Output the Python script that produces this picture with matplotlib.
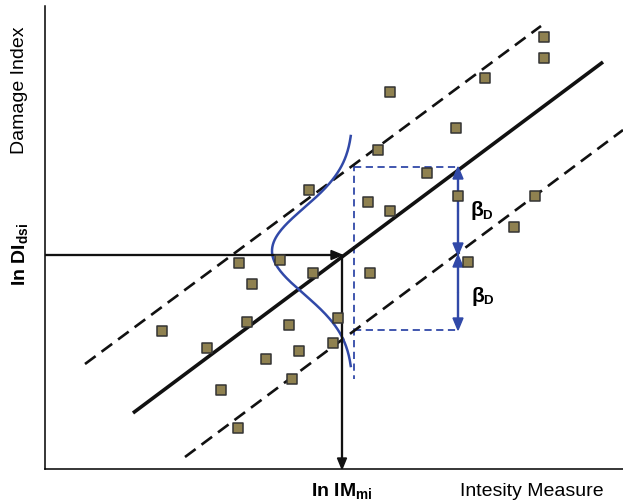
import numpy as np
import matplotlib
matplotlib.use('Agg')
import matplotlib.pyplot as plt

# scatter points (x, y in plot units, y grows upward)
pts_x = [162, 207, 221, 238, 239, 247, 252, 266, 280, 289, 292, 299, 309, 313, 333,
         338, 368, 370, 378, 390, 390, 427, 456, 458, 468, 485, 514, 535, 544, 544]
pts_y = [170, 153, 111, 73, 238, 179, 217, 142, 241, 176, 122, 150, 311, 228, 158,
         183, 299, 228, 351, 409, 290, 328, 373, 305, 239, 423, 274, 305, 464, 443]

# regression line and +/- beta bands (end points)
fit_x = [133, 603]
fit_y = [88, 439]
upper_x = [85, 541]
upper_y = [137, 475]
lower_x = [185, 623]
lower_y = [44, 371]

# selected intensity / damage index
im_mi = 342
di_dsi = 246

# beta levels at the right of the box
beta_x = 458
beta_top = 334
beta_bot = 171
box_left = 354

# schematic normal pdf drawn sideways
pdf_base = 353
pdf_mean = 250
pdf_sigma = 43
pdf_height = 81

blue = '#3149a8'
olive = '#8f8150'

plt.rcParams.update({
    'font.family': 'Liberation Sans',
    'mathtext.fontset': 'custom',
    'mathtext.rm': 'Liberation Sans',
    'mathtext.it': 'Liberation Sans:italic',
    'mathtext.bf': 'Liberation Sans:bold',
})

fig = plt.figure(figsize=(6.23, 5.02), dpi=100)
ax = fig.add_axes([45/623, 32/502, 578/623, 463/502])
ax.set_xlim(45, 623)
ax.set_ylim(32, 495)
ax.spines['top'].set_visible(False)
ax.spines['right'].set_visible(False)
ax.spines['left'].set_linewidth(1.1)
ax.spines['bottom'].set_linewidth(1.1)
ax.set_xticks([])
ax.set_yticks([])

# lines
ax.plot(fit_x, fit_y, color='#111111', lw=2.6, solid_capstyle='butt', zorder=3)
ax.plot(upper_x, upper_y, color='#111111', lw=1.9, ls=(0, (5, 2.8)), zorder=3)
ax.plot(lower_x, lower_y, color='#111111', lw=1.9, ls=(0, (5, 2.8)), zorder=3)

# blue dashed box
ax.plot([box_left, beta_x], [beta_top, beta_top], color=blue, lw=1.3, ls=(0, (4, 2.5)))
ax.plot([box_left, beta_x], [beta_bot, beta_bot], color=blue, lw=1.3, ls=(0, (4, 2.5)))
ax.plot([box_left, box_left], [beta_top + 3, 122], color=blue, lw=1.3, ls=(0, (4, 2.5)))

# normal pdf
yy = np.linspace(pdf_mean - 115, pdf_mean + 115, 200)
xx = pdf_base - pdf_height * np.exp(-(yy - pdf_mean) ** 2 / (2 * pdf_sigma ** 2))
ax.plot(xx, yy, color=blue, lw=1.8, zorder=4)

# black arrows
ax.arrow(45, di_dsi, im_mi - 45, 0, color='#111111', width=0.9, head_width=9,
         head_length=11, length_includes_head=True, zorder=5)
ax.arrow(im_mi, di_dsi, 0, 32 - di_dsi, color='#111111', width=0.9, head_width=9,
         head_length=11, length_includes_head=True, zorder=5)

# blue beta arrows
for y0, y1 in [(di_dsi, beta_top), (beta_top, di_dsi), (di_dsi, beta_bot), (beta_bot, di_dsi)]:
    mid = (y0 + y1) / 2
    ax.arrow(beta_x, mid, 0, y1 - mid, color=blue, width=1.0, head_width=10,
             head_length=12, length_includes_head=True, zorder=5)

# points
ax.scatter(pts_x, pts_y, marker='s', s=42, c=olive, edgecolors='#333333',
           linewidths=1.1, zorder=6)

# beta labels
for bx, by in [(476.5, 291), (477.5, 206)]:
    ax.text(bx, by, 'β', fontsize=15, fontweight='bold', ha='center', va='center')
    ax.text(bx + 10.5, by - 5, 'D', fontsize=9.5, fontweight='bold', ha='center', va='center')

ax.text(342, 6, r'$\mathbf{In\ IM_{mi}}$', fontsize=14, ha='center', va='baseline',
        clip_on=False)
ax.text(532, 6, 'Intesity Measure', fontsize=14, ha='center', va='baseline', clip_on=False)
ax.text(20, 412, 'Damage Index', fontsize=14, rotation=90, ha='center', va='center',
        clip_on=False)
ax.text(20, 248, r'$\mathbf{In\ DI_{dsi}}$', fontsize=14, rotation=90, ha='center',
        va='center', clip_on=False)

fig.savefig('out.png', dpi=100)
